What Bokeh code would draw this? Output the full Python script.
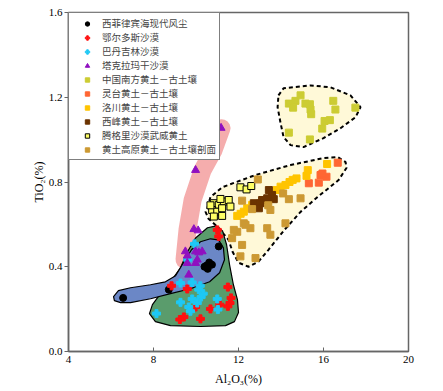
from bokeh.plotting import figure
from bokeh.models import Range1d, FixedTicker, PrintfTickFormatter, Legend
from bokeh.embed import file_html
from bokeh.resources import INLINE

# ---- data (Al2O3 %, TiO2 %) ----
wp_x = [8.42, 6.57, 8.72, 11.07, 10.40, 10.55, 10.75, 10.62, 10.48]
wp_y = [0.946, 0.253, 0.292, 0.496, 0.40, 0.39, 0.41, 0.42, 0.405]

ordos_x = [11.0, 11.07, 8.85, 9.59, 11.5, 11.65, 11.6, 11.5, 11.12, 10.68, 9.98, 9.43, 9.24, 10.21]
ordos_y = [0.574, 0.543, 0.31, 0.295, 0.304, 0.253, 0.229, 0.213, 0.221, 0.201, 0.21, 0.163, 0.151, 0.154]

badain_x = [9.93, 9.61, 9.27, 9.82, 10.13, 10.34, 10.24, 9.82, 9.27, 9.66, 9.74, 10.06, 11.0, 11.03, 8.14, 10.2]
badain_y = [0.508, 0.433, 0.323, 0.326, 0.292, 0.273, 0.257, 0.248, 0.232, 0.21, 0.19, 0.229, 0.248, 0.198, 0.179, 0.31]

takla_x = [11.18, 9.98, 9.9, 10.1, 9.5, 9.98, 10.29, 10.13, 9.59, 10.06, 9.59, 9.98, 9.66]
takla_y = [1.055, 0.856, 0.577, 0.571, 0.472, 0.472, 0.472, 0.467, 0.452, 0.433, 0.417, 0.417, 0.362]

south_x = [14.37, 14.68, 14.92, 14.57, 15.15, 15.36, 15.39, 15.42, 16.46, 16.56, 17.5, 16.05, 16.3, 15.94, 14.37, 15.36]
south_y = [1.170, 1.183, 1.209, 1.151, 1.170, 1.167, 1.142, 1.12, 1.183, 1.142, 1.151, 1.088, 1.092, 1.052, 1.033, 1.001]

lingtai_x = [16.67, 15.86, 16.14, 15.95, 15.78, 15.31]
lingtai_y = [0.891, 0.833, 0.825, 0.84, 0.797, 0.794]

luochuan_x = [16.17, 15.26, 15.2, 14.73, 14.4, 14.21, 13.98, 13.79, 12.64, 12.41, 12.25, 11.94, 12.1, 14.55]
luochuan_y = [0.885, 0.856, 0.829, 0.817, 0.80, 0.786, 0.778, 0.762, 0.692, 0.676, 0.66, 0.64, 0.65, 0.81]

xifeng_x = [13.43, 13.58, 13.66, 13.35, 13.11, 13.04, 12.72, 12.96]
xifeng_y = [0.762, 0.739, 0.719, 0.723, 0.715, 0.70, 0.70, 0.676]

tengger_x = [12.09, 12.38, 12.6, 10.84, 11.07, 11.31, 11.54, 10.76, 11.0, 11.23, 10.84, 11.23, 11.62, 10.68, 11.15]
tengger_y = [0.775, 0.765, 0.781, 0.70, 0.692, 0.708, 0.715, 0.668, 0.66, 0.676, 0.637, 0.64, 0.684, 0.69, 0.72]

plateau_x = [12.91, 12.17, 14.1, 14.37, 14.92, 13.5, 12.64, 12.25, 12.56, 13.35, 14.21, 13.5, 11.94, 11.7, 12.09, 12.8, 11.78, 12.33, 12.17, 13.4]
plateau_y = [0.812, 0.712, 0.746, 0.719, 0.723, 0.668, 0.672, 0.605, 0.582, 0.582, 0.605, 0.551, 0.565, 0.535, 0.449, 0.441, 0.574, 0.598, 0.503, 0.69]

# ---- field outlines ----
pink_x = [11.2, 10.82, 10.31, 9.84, 9.6, 9.46]
pink_y = [1.054, 0.949, 0.856, 0.715, 0.574, 0.433]

green_x = [10.54, 10.96, 11.25, 11.44, 11.58, 11.76, 11.95, 12.0, 11.81, 11.39, 10.21, 8.8, 8.09, 7.81, 7.95, 8.33, 8.8, 9.27, 9.6, 9.98]
green_y = [0.584, 0.593, 0.569, 0.504, 0.409, 0.315, 0.245, 0.184, 0.141, 0.122, 0.118, 0.122, 0.141, 0.179, 0.221, 0.273, 0.329, 0.395, 0.471, 0.536]

blue_x = [6.12, 6.35, 6.92, 7.86, 8.56, 9.04, 9.41, 9.79, 10.21, 10.68, 11.06, 11.29, 11.34, 11.11, 10.64, 9.74, 8.8, 7.86, 6.92, 6.45, 6.16]
blue_y = [0.259, 0.287, 0.301, 0.315, 0.329, 0.358, 0.419, 0.48, 0.518, 0.532, 0.527, 0.489, 0.433, 0.372, 0.329, 0.296, 0.273, 0.249, 0.231, 0.231, 0.24]

upper_x = [13.88, 14.12, 15.39, 16.33, 17.27, 17.74, 17.51, 16.8, 16.0, 15.06, 14.45, 14.12, 13.98, 13.84]
upper_y = [1.209, 1.242, 1.256, 1.247, 1.209, 1.153, 1.106, 1.054, 1.007, 0.965, 0.974, 1.012, 1.078, 1.153]

loess_x = [10.54, 10.68, 11.25, 12.8, 14.45, 16.0, 16.66, 17.04, 17.08, 16.71, 15.72, 14.92, 14.16, 13.41, 12.94, 12.47, 12.0, 11.72, 11.53, 11.06, 10.59, 10.45]
loess_y = [0.678, 0.729, 0.776, 0.833, 0.88, 0.913, 0.918, 0.894, 0.866, 0.809, 0.729, 0.659, 0.574, 0.48, 0.424, 0.4, 0.419, 0.471, 0.527, 0.584, 0.626, 0.659]

x_ticks = [4, 8, 12, 16, 20]
y_ticks = [0.0, 0.4, 0.8, 1.2, 1.6]

SERIF = "Liberation Serif"
LEG_FONT = "Liberation Serif, Noto Sans CJK SC"

p = figure(width=430, height=388, output_backend="svg", toolbar_location=None,
           x_range=Range1d(4, 20), y_range=Range1d(0, 1.6),
           min_border_left=68, min_border_top=12, min_border_right=22, min_border_bottom=36)
p.grid.visible = False
p.outline_line_color = "#666666"
p.outline_line_width = 1.5

# fields
p.line(pink_x, pink_y, line_color="#f4a4a4", line_width=18, line_alpha=0.9,
       line_cap="round", line_join="round")
p.patch(loess_x, loess_y, fill_color="#fff9d8", line_color="black", line_width=2, line_dash="4 3")
p.patch(upper_x, upper_y, fill_color="#fff9d8", line_color="black", line_width=2, line_dash="4 3")
p.patch(green_x, green_y, fill_color="#5a9c6c", line_color="black", line_width=1.2)
p.patch(blue_x, blue_y, fill_color="#6b87c6", line_color="black", line_width=1.2)

# points
r_wp = p.scatter(wp_x, wp_y, marker="circle", size=7, color="black")
r_or = p.scatter(ordos_x, ordos_y, marker="plus", size=8, color="#ff1010")
r_ba = p.scatter(badain_x, badain_y, marker="plus", size=8, color="#1ec8f5")
r_tk = p.scatter(takla_x, takla_y, marker="triangle", size=8, color="#9010c0")
r_so = p.scatter(south_x, south_y, marker="square", size=7, color="#cccc33")
r_lt = p.scatter(lingtai_x, lingtai_y, marker="square", size=7, color="#ff6633")
r_lc = p.scatter(luochuan_x, luochuan_y, marker="square", size=7, color="#ffc400")
r_xf = p.scatter(xifeng_x, xifeng_y, marker="square", size=7, color="#6b3300")
r_tg = p.scatter(tengger_x, tengger_y, marker="square", size=7, fill_color="#ffff66", line_color="black", line_width=1)
r_pl = p.scatter(plateau_x, plateau_y, marker="square", size=7, color="#cc9933")

legend = Legend(items=[
    ("西菲律宾海现代风尘", [r_wp]),
    ("鄂尔多斯沙漠", [r_or]),
    ("巴丹吉林沙漠", [r_ba]),
    ("塔克拉玛干沙漠", [r_tk]),
    ("中国南方黄土－古土壤", [r_so]),
    ("灵台黄土－古土壤", [r_lt]),
    ("洛川黄土－古土壤", [r_lc]),
    ("西峰黄土－古土壤", [r_xf]),
    ("腾格里沙漠武威黄土", [r_tg]),
    ("黄土高原黄土－古土壤剖面", [r_pl]),
], location="top_left")
legend.margin = 0
legend.padding = 3
legend.spacing = 0
legend.glyph_width = 30
legend.glyph_height = 11
legend.label_height = 11
legend.label_standoff = 0
legend.label_text_font = LEG_FONT
legend.label_text_font_size = "9.5px"
legend.label_text_line_height = 1.0
legend.border_line_color = "black"
legend.border_line_width = 1
legend.background_fill_alpha = 1
p.add_layout(legend)

# axes
for ax in (p.xaxis[0], p.yaxis[0]):
    ax.axis_line_color = "#666666"
    ax.axis_line_width = 1.5
    ax.major_tick_line_color = "#666666"
    ax.minor_tick_line_color = None
    ax.major_label_text_font = SERIF
    ax.major_label_text_font_size = "11px"
    ax.major_label_text_color = "black"
    ax.axis_label_text_font = SERIF
    ax.axis_label_text_font_size = "12px"
    ax.axis_label_text_font_style = "normal"
    ax.axis_label_text_color = "black"

p.xaxis.ticker = FixedTicker(ticks=x_ticks)
p.yaxis.ticker = FixedTicker(ticks=y_ticks)
p.yaxis.formatter = PrintfTickFormatter(format="%.1f")
p.xaxis.major_tick_in = 4
p.xaxis.major_tick_out = 0
p.yaxis.major_tick_in = 0
p.yaxis.major_tick_out = 4
p.xaxis.major_label_standoff = 4
p.yaxis.major_label_standoff = 2
p.xaxis.axis_label = "Al₂O₃(%)"
p.yaxis.axis_label = "TiO₂(%)"
p.xaxis.axis_label_standoff = 6
p.yaxis.axis_label_standoff = 0

open("out.html", "w").write(file_html(p, INLINE))
